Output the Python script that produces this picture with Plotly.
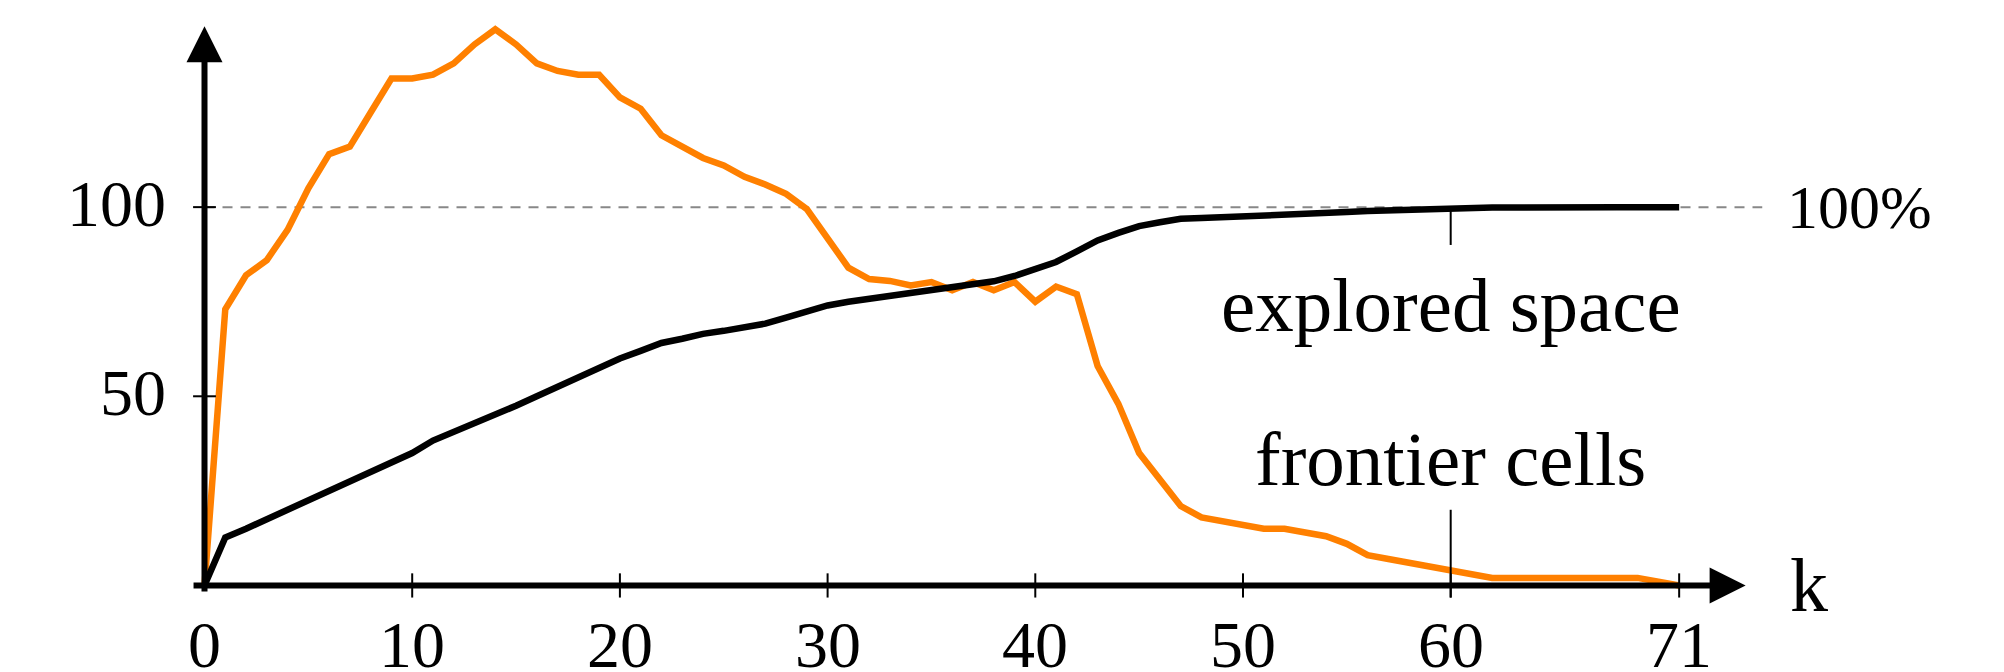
import plotly.graph_objects as go

k = list(range(72))
frontier_cells = [0, 73, 82, 86, 94, 105, 114, 116, 125, 134,
                  134, 135, 138, 143, 147, 143, 138, 136, 135, 135,
                  129, 126, 119, 116, 113, 111, 108, 106, 103.5, 99.5,
                  92, 84, 81, 80.5, 79.3, 80.2, 78, 80.2, 78, 80.2,
                  75, 79, 77, 58, 48, 35, 28, 21, 18, 17,
                  16, 15, 15, 14, 13, 11, 8, 7, 6, 5,
                  4, 3, 2, 2, 2, 2, 2, 2, 2, 2,
                  1, 0]
explored_space = [0, 12.7, 15, 17.5, 20, 22.5, 25, 27.5, 30, 32.2,
                  35, 38.3, 40.5, 42.7, 45, 47.5, 50, 52.5, 55, 57.5,
                  60, 62, 64.1, 65.2, 66.5, 67.3, 68.4, 69.2, 70.8, 72.3,
                  74, 75, 75.8, 76.5, 77.2, 77.9, 78.6, 79.5, 80.4, 81.8,
                  83.5, 85.5, 88.3, 91.2, 93.2, 95, 96, 96.9, 97.1, 97.3,
                  97.4, 97.6, 97.7, 98.1, 98.4, 98.7, 99, 99.2, 99.4, 99.5,
                  99.7, 99.8, 99.9, 99.9, 100, 100, 100, 100, 100, 100,
                  100, 100]
x_ticks = [0, 10, 20, 30, 40, 50, 60, 71]
y_ticks = [50, 100]
label_explored = "explored space"
label_frontier = "frontier cells"

FONT = "Liberation Serif"
fig = go.Figure()
fig.add_trace(go.Scatter(x=k, y=frontier_cells, mode="lines",
                         line=dict(color="#FF8000", width=6.5), showlegend=False))
fig.add_trace(go.Scatter(x=k, y=explored_space, mode="lines",
                         line=dict(color="black", width=6.5), showlegend=False))

shapes = []
shapes.append(dict(type="line", xref="x", yref="y", x0=0, x1=75, y0=100, y1=100,
                   line=dict(color="#888888", width=2, dash="10px,8px"), layer="below"))
for t in x_ticks[1:]:
    shapes.append(dict(type="line", xref="x", yref="y", x0=t, x1=t, y0=-3.2, y1=3.2,
                       line=dict(color="black", width=2)))
for t in y_ticks:
    shapes.append(dict(type="line", xref="x", yref="y", x0=-0.55, x1=0.55, y0=t, y1=t,
                       line=dict(color="black", width=2)))
shapes.append(dict(type="line", xref="x", yref="y", x0=60, x1=60, y0=90, y1=100,
                   line=dict(color="black", width=2)))
shapes.append(dict(type="line", xref="x", yref="y", x0=60, x1=60, y0=-3.2, y1=20,
                   line=dict(color="black", width=2)))

ann = []
ann.append(dict(x=74.2, y=0, ax=-0.6, ay=0, xref="x", yref="y", axref="x", ayref="y",
                showarrow=True, arrowhead=2, arrowwidth=6, arrowsize=1.2,
                arrowcolor="black", text=""))
ann.append(dict(x=0, y=147.8, ax=0, ay=-2, xref="x", yref="y", axref="x", ayref="y",
                showarrow=True, arrowhead=2, arrowwidth=6, arrowsize=1.2,
                arrowcolor="black", text=""))
for t in x_ticks:
    ann.append(dict(x=t, y=-15.5, xref="x", yref="y", text=str(t), showarrow=False,
                    xanchor="center", yanchor="middle",
                    font=dict(family=FONT, size=66, color="black")))
for t in y_ticks:
    ann.append(dict(x=-1.75, y=t + 1, xref="x", yref="y", text=str(t), showarrow=False,
                    xanchor="right", yanchor="middle",
                    font=dict(family=FONT, size=66, color="black")))
ann.append(dict(x=76.1, y=100, xref="x", yref="y", text="100%", showarrow=False,
                xanchor="left", yanchor="middle",
                font=dict(family=FONT, size=62, color="black")))
ann.append(dict(x=76.25, y=0.2, xref="x", yref="y", text="k", showarrow=False,
                xanchor="left", yanchor="middle",
                font=dict(family=FONT, size=76, color="black")))
ann.append(dict(x=60, y=74, xref="x", yref="y", text=label_explored, showarrow=False,
                xanchor="center", yanchor="middle",
                font=dict(family=FONT, size=77, color="black")))
ann.append(dict(x=60, y=33.5, xref="x", yref="y", text=label_frontier, showarrow=False,
                xanchor="center", yanchor="middle",
                font=dict(family=FONT, size=77, color="black")))

fig.update_layout(
    width=2004, height=672,
    margin=dict(l=0, r=0, t=0, b=0),
    paper_bgcolor="white", plot_bgcolor="white",
    xaxis=dict(range=[-9.846, 86.64], visible=False, fixedrange=True),
    yaxis=dict(range=[-22.88, 154.75], visible=False, fixedrange=True),
    shapes=shapes, annotations=ann,
)
fig.write_html("out.html", config={"displayModeBar": False},
               post_script="document.body.style.margin='0';document.body.style.overflow='hidden';")
